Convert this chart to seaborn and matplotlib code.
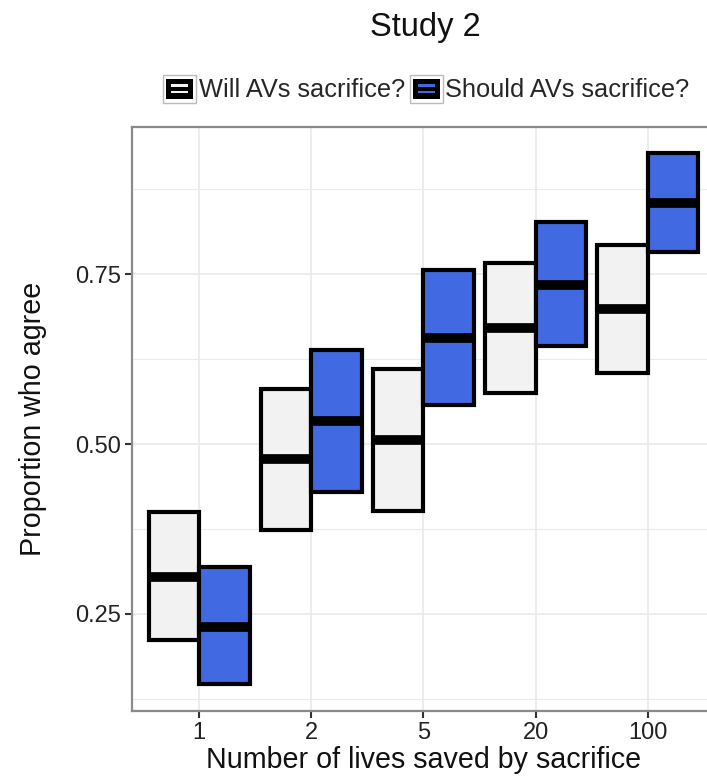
import numpy as np
import pandas as pd
import seaborn as sns
import matplotlib.pyplot as plt
from matplotlib.legend_handler import HandlerBase
from matplotlib.patches import Rectangle, Patch
from matplotlib.ticker import MultipleLocator

lives = ["1", "2", "5", "20", "100"]
questions = ["Will AVs sacrifice?", "Should AVs sacrifice?"]
will_mid = [0.305, 0.478, 0.506, 0.671, 0.699]
will_lo = [0.212, 0.373, 0.402, 0.575, 0.605]
will_hi = [0.400, 0.581, 0.611, 0.766, 0.793]
should_mid = [0.231, 0.534, 0.656, 0.735, 0.855]
should_lo = [0.147, 0.430, 0.557, 0.645, 0.783]
should_hi = [0.319, 0.638, 0.756, 0.827, 0.928]

df = pd.DataFrame({
    "lives": lives * 2,
    "question": [questions[0]] * 5 + [questions[1]] * 5,
    "mid": will_mid + should_mid,
    "lo": will_lo + should_lo,
    "hi": will_hi + should_hi,
})
colors = {questions[0]: "#F2F2F2", questions[1]: "#4169E1"}

sns.set_theme(style="whitegrid")
plt.rcParams["font.family"] = ["Liberation Sans", "DejaVu Sans"]

fig = plt.figure(figsize=(7.07, 7.78), dpi=100)
# panel runs slightly past the right edge, as in the reference crop
ax = fig.add_axes([0.1867, 0.0861, 0.8246, 0.7507])

width = 0.45
for j, q in enumerate(questions):
    sub = df[df["question"] == q]
    x = np.arange(len(lives)) + (j - 0.5) * width
    ax.bar(x, sub["hi"] - sub["lo"], bottom=sub["lo"], width=width,
           color=colors[q], edgecolor="black", linewidth=3, zorder=3,
           joinstyle="miter")
    ax.hlines(sub["mid"], x - width / 2, x + width / 2, color="black",
              linewidth=7, zorder=4)

ax.set_xlim(-0.6, 4.6)
ax.set_ylim(0.107, 0.967)
ax.set_xticks(range(len(lives)))
ax.set_xticklabels(lives)
ax.set_yticks([0.25, 0.50, 0.75])
ax.set_yticklabels(["0.25", "0.50", "0.75"])
ax.yaxis.set_minor_locator(MultipleLocator(0.125))

ax.grid(which="major", color="#EBEBEB", linewidth=1.3, zorder=0)
ax.grid(which="minor", axis="y", color="#EBEBEB", linewidth=0.8, zorder=0)
ax.set_axisbelow(True)
for s in ax.spines.values():
    s.set_color("#8A8A8A")
    s.set_linewidth(1.6)

ax.tick_params(axis="both", which="major", length=5, width=1.5, color="#333333",
               labelsize=17, labelcolor="#222222", pad=3, bottom=True, left=True)
ax.tick_params(axis="y", which="minor", length=0)

ax.set_xlabel("Number of lives saved by sacrifice", fontsize=20.6, color="#111111", labelpad=1)
ax.set_ylabel("Proportion who agree", fontsize=20.6, color="#111111", labelpad=20)
fig.suptitle("Study 2", x=0.601, y=0.965, va="center", fontsize=23.5, color="#111111")


class CrossbarKey(HandlerBase):
    def create_artists(self, legend, orig_handle, xdescent, ydescent,
                       width, height, fontsize, trans):
        x0, y0 = -xdescent, -ydescent
        bg = Rectangle((x0, y0), width, height, facecolor="white",
                       edgecolor="#BBBBBB", linewidth=1, transform=trans)
        inner = Rectangle((x0 + width * 0.1, y0 + height * 0.14), width * 0.8,
                          height * 0.72, facecolor="black", edgecolor="none",
                          transform=trans)
        fill = orig_handle.get_facecolor()
        s1 = Rectangle((x0 + width * 0.25, y0 + height * 0.57), width * 0.5,
                       height * 0.09, facecolor=fill, edgecolor="none", transform=trans)
        s2 = Rectangle((x0 + width * 0.25, y0 + height * 0.33), width * 0.5,
                       height * 0.09, facecolor=fill, edgecolor="none", transform=trans)
        return [bg, inner, s1, s2]


handles = [Patch(facecolor=colors[q], label=q) for q in questions]
fig.legend(handles=handles, loc="center", bbox_to_anchor=(0.603, 0.886), ncol=2,
           frameon=False, fontsize=18.3, handler_map={Patch: CrossbarKey()},
           handlelength=1.3, handleheight=1.3, handletextpad=0.1,
           columnspacing=0.2, borderpad=0)

fig.savefig("out.png", dpi=100)
